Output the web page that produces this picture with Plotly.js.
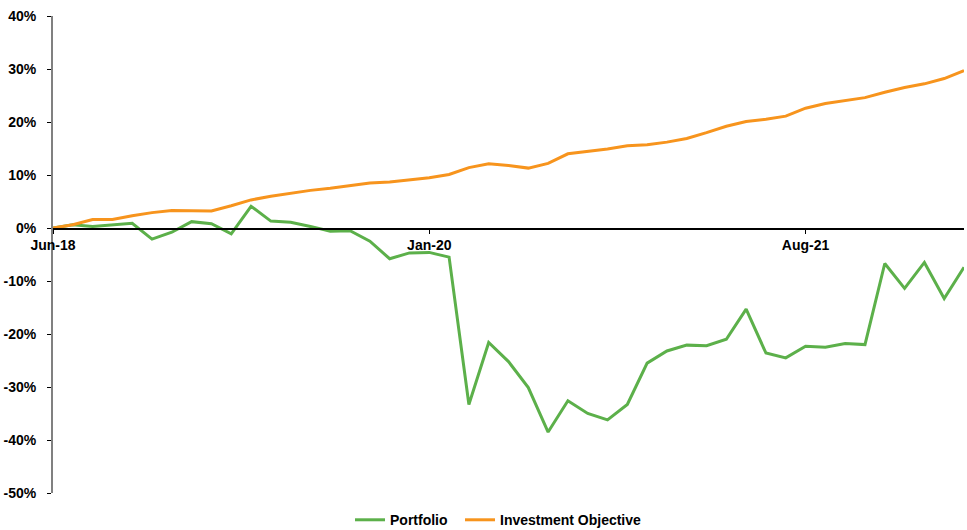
<!DOCTYPE html>
<html>
<head>
<meta charset="utf-8">
<script src="https://cdn.plot.ly/plotly-3.0.1.min.js"></script>
<style>html,body{margin:0;padding:0;background:#fff;}#chart{width:967px;height:530px;}</style>
</head>
<body>
<div id="chart"></div>
<script>
const months = ["Jun-18","Jul-18","Aug-18","Sep-18","Oct-18","Nov-18","Dec-18",
  "Jan-19","Feb-19","Mar-19","Apr-19","May-19","Jun-19","Jul-19","Aug-19","Sep-19","Oct-19","Nov-19","Dec-19",
  "Jan-20","Feb-20","Mar-20","Apr-20","May-20","Jun-20","Jul-20","Aug-20","Sep-20","Oct-20","Nov-20","Dec-20",
  "Jan-21","Feb-21","Mar-21","Apr-21","May-21","Jun-21","Jul-21","Aug-21","Sep-21","Oct-21","Nov-21","Dec-21",
  "Jan-22","Feb-22","Mar-22","Apr-22"];
const portfolio = [0.0, 0.6, 0.3, 0.6, 0.9, -2.1, -0.8, 1.2, 0.8, -1.1, 4.1, 1.3, 1.1, 0.3, -0.6,
  -0.5, -2.5, -5.8, -4.7, -4.6, -5.5, -33.3, -21.6, -25.2, -30.1, -38.5, -32.6, -35.0, -36.2, -33.3,
  -25.5, -23.2, -22.1, -22.2, -21.0, -15.3, -23.6, -24.5, -22.3, -22.5, -21.8, -22.0, -6.7, -11.4,
  -6.5, -13.3, -7.4];
const objective = [0.0, 0.6, 1.6, 1.6, 2.3, 2.9, 3.3, 3.2, 3.2, 4.2, 5.3, 6.0, 6.6, 7.1, 7.5,
  8.0, 8.5, 8.7, 9.1, 9.5, 10.1, 11.4, 12.1, 11.8, 11.3, 12.2, 14.0, 14.4, 14.9, 15.5,
  15.7, 16.2, 16.9, 18.0, 19.2, 20.1, 20.5, 21.1, 22.6, 23.5, 24.1, 24.6, 25.6, 26.5,
  27.2, 28.2, 29.7];
const xTicks = ["Jun-18","Jan-20","Aug-21"];
const yTicks = [-50,-40,-30,-20,-10,0,10,20,30,40];
const yTickText = yTicks.map(v => v + "%");

const font = {family: "Liberation Sans, Arial, sans-serif", size: 14, color: "#000", weight: "bold"};
const legFont = {family: "Liberation Sans, Arial, sans-serif", size: 14, color: "#000", weight: "bold"};

const traces = [
  {x: months, y: portfolio, name: "Portfolio", type: "scatter", mode: "lines",
   line: {color: "#5cb04a", width: 3}, legend: "legend"},
  {x: months, y: objective, name: "Investment Objective", type: "scatter", mode: "lines",
   line: {color: "#f7941d", width: 3}, legend: "legend2"}
];

const layout = {
  width: 967, height: 530,
  margin: {l: 53, r: 3, t: 16, b: 37, autoexpand: false},
  paper_bgcolor: "#fff", plot_bgcolor: "#fff",
  font: font,
  showlegend: true,
  legend: {orientation: "h", x: (350 - 53) / 911, xanchor: "left", y: -0.057, yanchor: "middle",
    font: legFont, itemwidth: 30},
  legend2: {orientation: "h", x: (460 - 53) / 911, xanchor: "left", y: -0.057, yanchor: "middle",
    font: legFont, itemwidth: 30},
  xaxis: {
    type: "category", range: [0, months.length - 1],
    tickmode: "array", tickvals: xTicks, ticktext: xTicks,
    anchor: "free", position: 50/90,
    showline: true, linecolor: "#000", linewidth: 1.5,
    ticks: "outside", ticklen: 4, tickcolor: "#000", tickwidth: 1,
    showgrid: false, zeroline: false, tickfont: font
  },
  yaxis: {
    range: [-50, 40], tickmode: "array", tickvals: yTicks, ticktext: yTickText,
    showline: true, linecolor: "#808080", linewidth: 2,
    ticks: "outside", ticklen: 4, tickcolor: "#000", tickwidth: 1,
    showgrid: false, zeroline: false, tickfont: font, ticklabelstandoff: 8
  },
  yaxis2: {
    range: [-50, 40], overlaying: "y", side: "left", tickmode: "array", tickvals: yTicks,
    showticklabels: false, ticks: "inside", ticklen: 4, tickcolor: "#000", tickwidth: 1,
    showline: false, showgrid: false, zeroline: false
  }
};

Plotly.newPlot("chart", traces, layout, {displayModeBar: false, staticPlot: true});
</script>
</body>
</html>
